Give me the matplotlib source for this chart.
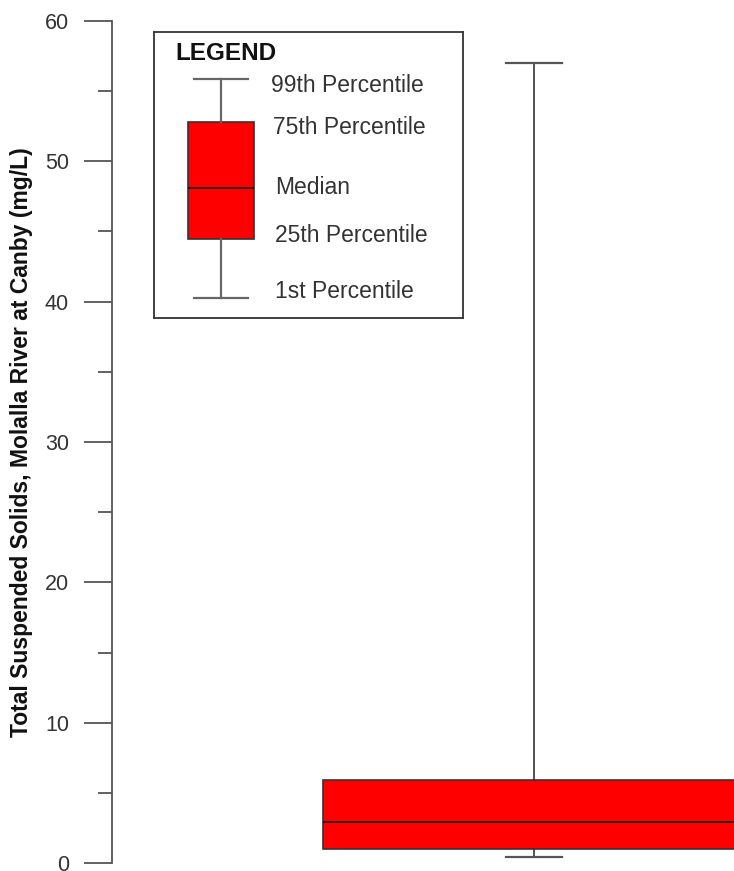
import matplotlib
matplotlib.use("Agg")
import matplotlib.pyplot as plt

plt.rcParams['font.family'] = ['Liberation Sans', 'DejaVu Sans']

# summary statistics of TSS at Canby (mg/L)
tss_stats = [dict(whislo=0.43, q1=1.0, med=2.9, q3=5.9, whishi=57.0, label="")]
y_ticks = [0, 10, 20, 30, 40, 50, 60]
y_minor = [5, 15, 25, 35, 45, 55]
y_label = "Total Suspended Solids, Molalla River at Canby (mg/L)"

# schematic legend box (arbitrary units)
legend_stats = [dict(whislo=20, q1=79, med=130, q3=196, whishi=239, label="")]
legend_labels = ["99th Percentile", "75th Percentile", "Median",
                 "25th Percentile", "1st Percentile"]
legend_keys = ["whishi", "q3", "med", "q1", "whislo"]
legend_shift = [-6, -5, 0, 4, 6]
legend_xpos = [117, 119, 121, 121, 121]

W, H = 734, 871
fig = plt.figure(figsize=(W / 100, H / 100), dpi=100)
ax = fig.add_axes([112 / W, 8 / H, (W - 112) / W, (863 - 21) / H])

edge = "#333333"
box_kw = dict(patch_artist=True, showfliers=False,
              boxprops=dict(facecolor="#ff0000", edgecolor=edge, linewidth=1.2),
              medianprops=dict(color="#111111", linewidth=1.2),
              whiskerprops=dict(color=edge, linewidth=1.2),
              capprops=dict(color="#555555", linewidth=1.6))

ax.bxp(tss_stats, positions=[1], widths=1.0, capwidths=0.135, **box_kw)
ax.set_xlim(0, (W - 112) / 422)
ax.set_ylim(0, 60)
ax.set_yticks(y_ticks)
ax.set_yticks(y_minor, minor=True)
ax.set_xticks([])
for s in ["top", "right", "bottom"]:
    ax.spines[s].set_visible(False)
ax.spines["left"].set_color("#555555")
ax.spines["left"].set_linewidth(1.3)
ax.tick_params(axis="y", which="major", length=20, width=1.3, color="#555555",
               pad=11, labelsize=15.5, labelcolor="#333333")
ax.tick_params(axis="y", which="minor", length=10, width=1.3, color="#555555")
ax.set_ylabel(y_label, fontsize=16.5, fontweight="bold", color="#111111")
ax.yaxis.set_label_coords(-(112 - 33) / (W - 112), 0.5)

# legend panel
lx0, ly0, lx1, ly1 = 154, 32, 463, 318
lax = fig.add_axes([lx0 / W, 1 - ly1 / H, (lx1 - lx0) / W, (ly1 - ly0) / H])
for s in lax.spines.values():
    s.set_color("#333333")
    s.set_linewidth(1.3)
legend_kw = dict(box_kw)
legend_kw["whiskerprops"] = dict(color="#666666", linewidth=1.6)
legend_kw["capprops"] = dict(color="#666666", linewidth=1.6)
lax.bxp(legend_stats, positions=[67], widths=66, capwidths=54, **legend_kw)
lax.set_xlim(0, lx1 - lx0)
lax.set_ylim(0, ly1 - ly0)
lax.set_xticks([])
lax.set_yticks([])
lax.text(21, (ly1 - ly0) - 21, "LEGEND", fontsize=17.5, fontweight="bold",
         color="#111111", va="center", ha="left")
for lab, key, dy, xp in zip(legend_labels, legend_keys, legend_shift, legend_xpos):
    lax.text(xp, legend_stats[0][key] + dy, lab, fontsize=16.5, color="#333333",
             va="center", ha="left")

fig.savefig("out.png", dpi=100)
